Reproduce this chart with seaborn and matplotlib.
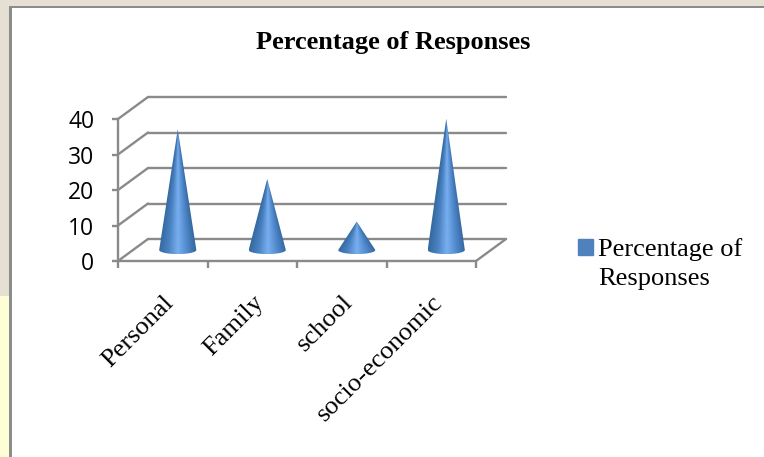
"""Cone chart: percentage of responses per problem category."""
import numpy as np
import pandas as pd
import matplotlib
matplotlib.use("Agg")
import matplotlib.pyplot as plt
from matplotlib.colors import LinearSegmentedColormap
from matplotlib.patches import Patch, Polygon, Rectangle
import seaborn as sns

CATEGORIES = ["Personal", "Family", "school", "socio-economic"]
VALUES = [34, 20, 8, 37]
Y_TICKS = [0, 10, 20, 30, 40]
SERIES = "Percentage of Responses"

W, H = 764, 457
GRAY = "#8a8a8a"
SERIF = "Liberation Serif"

sns.set_theme(style="white")
plt.rcParams["font.family"] = [SERIF, "DejaVu Sans"]

# depth of the fake 3D box, in data units
DEPTH_X = 30 / 89.5
DEPTH_Y = 22 / 3.55

fig = plt.figure(figsize=(W / 100, H / 100), dpi=100, facecolor="white")


def px_rect(x, y, w, h, color):
    """Background rectangle given in image pixels (y from the top)."""
    fig.add_artist(Rectangle((x / W, 1 - (y + h) / H), w / W, h / H,
                             transform=fig.transFigure, color=color, lw=0, zorder=-5))


# slide background and panel border
px_rect(0, 0, W, 7, "#e6e0d4")
px_rect(0, 0, 9, 296, "#e6e0d4")
px_rect(0, 296, 9, H - 296, "#fdfdd6")
px_rect(9, 6, W - 9, 2, "#8c8c8c")
px_rect(9, 6, 2.5, H - 6, "#8c8c8c")

ax = fig.add_axes([118 / W, 1 - 261 / H, 358 / W, 142 / H])
df = pd.DataFrame({"category": CATEGORIES, "value": VALUES})
sns.barplot(data=df, x="category", y="value", width=0.415, ax=ax)
bars = list(ax.patches)
for bar in bars:
    bar.set_visible(False)

ax.set_xlim(-0.5, len(CATEGORIES) - 0.5)
ax.set_ylim(0, Y_TICKS[-1])
ax.patch.set_alpha(0)
ax.set_xlabel("")
ax.set_ylabel("")

# box: back wall lines, left wall lines and the floor
x0, x1 = ax.get_xlim()
line_style = dict(color=GRAY, lw=1.7, clip_on=False, zorder=1, solid_capstyle="round")
for v in Y_TICKS:
    ax.plot([x0 + DEPTH_X, x1 + DEPTH_X], [v + DEPTH_Y, v + DEPTH_Y], **line_style)
    ax.plot([x0, x0 + DEPTH_X], [v, v + DEPTH_Y], **line_style)
ax.plot([x1, x1 + DEPTH_X], [0, DEPTH_Y], **line_style)

# cones, built on the geometry of the seaborn bars
cone_cmap = LinearSegmentedColormap.from_list(
    "cone", ["#356a9f", "#4a82c2", "#78aff0", "#5089cc", "#33659b"])
for bar in bars:
    cx = bar.get_x() + bar.get_width() / 2 + DEPTH_X / 2
    half = bar.get_width() / 2
    base = DEPTH_Y / 2
    tip = base + bar.get_height()
    drop = 1.15  # front of the base ellipse

    theta = np.linspace(np.pi, 2 * np.pi, 40)
    outline = [(cx, tip)]
    outline += list(zip(cx + half * np.cos(theta), base + drop * np.sin(theta)))
    clip = Polygon(outline, closed=True, facecolor="none", edgecolor="none",
                   zorder=3, clip_on=False)
    ax.add_patch(clip)

    xs = np.linspace(cx - half, cx + half, 120)
    ys = np.linspace(base - drop, tip, 200)
    gx, gy = np.meshgrid(xs, ys)
    shrink = np.clip((tip - gy) / (tip - base), 0.02, 1)
    u = np.clip((gx - cx) / (half * shrink) * 0.5 + 0.5, 0, 1)
    img = ax.imshow(u, origin="lower", cmap=cone_cmap, vmin=0, vmax=1, aspect="auto",
                    extent=(cx - half, cx + half, base - drop, tip), zorder=3,
                    interpolation="bilinear")
    img.set_clip_path(clip)

ax.set_xlim(x0, x1)
ax.set_ylim(0, Y_TICKS[-1])

# axes
sns.despine(ax=ax)
for side in ["left", "bottom"]:
    ax.spines[side].set_color(GRAY)
    ax.spines[side].set_linewidth(1.7)
ax.set_yticks(Y_TICKS)
ax.set_yticklabels([str(v) for v in Y_TICKS], family="Open Sans", fontsize=16.5, color="black")
ax.tick_params(axis="y", left=True, length=4, width=1.7, color=GRAY, pad=13)
ax.set_xticks(np.arange(len(CATEGORIES) + 1) - 0.5, minor=True)
ax.set_xticks(range(len(CATEGORIES)))
ax.tick_params(axis="x", which="minor", bottom=True, length=5, width=1.7, color=GRAY)
ax.tick_params(axis="x", which="major", bottom=False, pad=16)
ax.set_xticklabels(CATEGORIES, rotation=45, ha="right", rotation_mode="anchor",
                   fontsize=19, color="black", va="top")

fig.text(393 / W, 1 - 42 / H, SERIES, ha="center", va="center",
         fontsize=19, fontweight="bold", color="black")

leg = fig.legend(handles=[Patch(color="#4f81bd", label="Percentage of\nResponses")],
                 loc="upper left", bbox_to_anchor=(560 / W, 1 - 220 / H), frameon=False,
                 fontsize=19, handlelength=0.55, handleheight=0.55, handletextpad=0.2,
                 borderpad=0.2, labelspacing=0, labelcolor="black")
leg.get_texts()[0].set_linespacing(1.38)
# square sits level with the first line of the label
handle = leg.legend_handles[0]
handle.set_y(handle.get_y() + 12)

fig.savefig("out.png", dpi=100)
